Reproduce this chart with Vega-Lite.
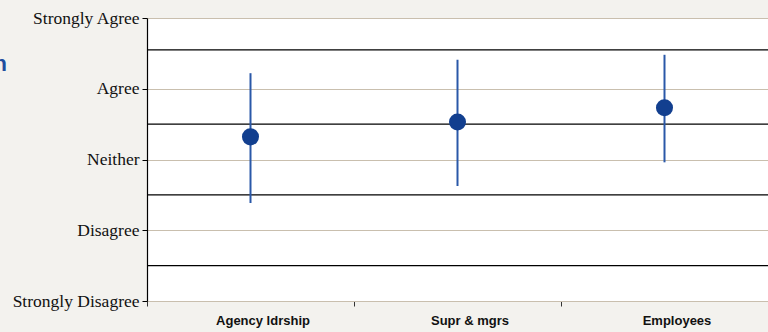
{
  "$schema": "https://vega.github.io/schema/vega-lite/v6.json",
  "autosize": "none",
  "width": 621,
  "height": 283,
  "padding": {"left": 147, "top": 18, "right": 0, "bottom": 31},
  "background": "#f3f2ee",
  "view": {"fill": "white", "stroke": null},
  "datasets": {
    "groups": [
      {"group": "Agency ldrship", "mean": 3.32, "low": 2.385, "high": 4.22},
      {"group": "Supr & mgrs", "mean": 3.53, "low": 2.625, "high": 4.41},
      {"group": "Employees", "mean": 3.73, "low": 2.96, "high": 4.48}
    ],
    "bands": [{"b": 1.5}, {"b": 2.5}, {"b": 3.5}, {"b": 4.55}]
  },
  "layer": [
    {
      "data": {"name": "bands"},
      "mark": {"type": "rule", "color": "#000000", "strokeWidth": 1.2},
      "encoding": {
        "y": {"field": "b", "type": "quantitative", "scale": {"domain": [1, 5], "nice": false, "zero": false}}
      }
    },
    {
      "data": {"name": "groups"},
      "mark": {"type": "rule", "color": "#2a58a8", "strokeWidth": 2},
      "encoding": {
        "x": {"field": "group", "type": "nominal", "sort": null,
              "scale": {"paddingInner": 0, "paddingOuter": 0},
              "axis": {"title": null, "labelAngle": 0, "tickBand": "extent", "domainColor": "#c9bfae",
                       "tickColor": "#333333", "tickSize": 5, "labelFont": "Liberation Sans", "labelFontWeight": "bold",
                       "labelFontSize": 13, "labelColor": "#111111", "labelPadding": 8, "labelOffset": 12, "grid": false}},
        "y": {"field": "low", "type": "quantitative",
              "scale": {"domain": [1, 5], "nice": false, "zero": false},
              "axis": {"values": [1, 2, 3, 4, 5], "labelExpr": "['','Strongly Disagree','Disagree','Neither','Agree','Strongly Agree'][datum.value]",
                       "grid": true, "gridColor": "#c9bfae", "gridOpacity": 1, "gridWidth": 1.2,
                       "domainColor": "#000000", "domainWidth": 1.2, "tickColor": "#000000", "tickSize": 5,
                       "labelFont": "Liberation Serif", "labelFontSize": 17.5, "labelColor": "#111111", "labelPadding": 3,
                       "title": "n", "titleAngle": 0, "titleX": -154, "titleY": 52, "titleAlign": "left", "titleBaseline": "alphabetic",
                       "titleColor": "#1f4e9e", "titleFont": "Liberation Sans", "titleFontSize": 22, "titleFontWeight": "bold"}},
        "y2": {"field": "high"}
      }
    },
    {
      "data": {"name": "groups"},
      "mark": {"type": "point", "filled": true, "color": "#123f8f", "opacity": 1, "size": 290},
      "encoding": {
        "x": {"field": "group", "type": "nominal", "sort": null},
        "y": {"field": "mean", "type": "quantitative"}
      }
    }
  ]
}
